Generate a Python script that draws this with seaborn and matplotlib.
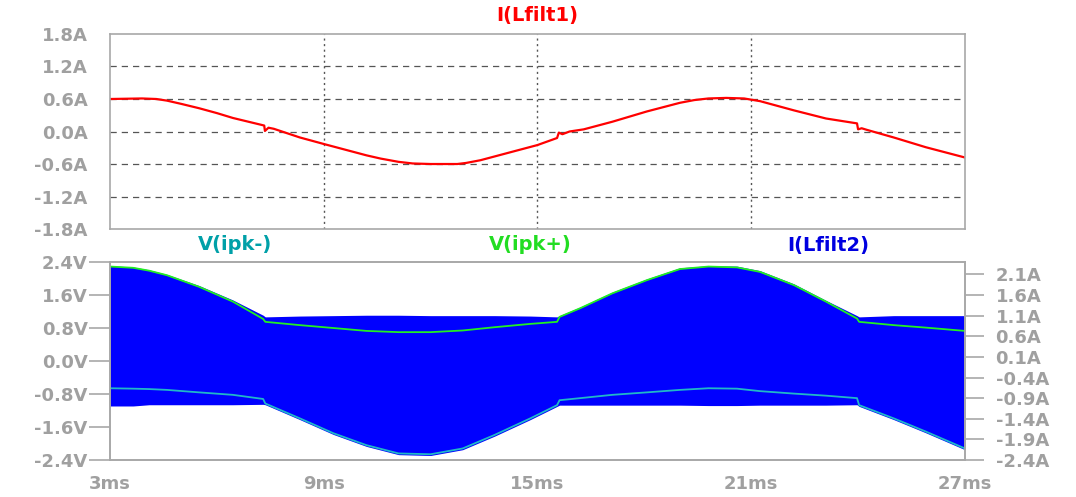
import numpy as np
import pandas as pd
import seaborn as sns
import matplotlib.pyplot as plt

# ---- data (time in ms) ----
t_top = [3.0, 3.9, 4.3, 4.6, 5.0, 5.5, 6.0, 6.45, 7.33, 7.35, 7.45, 7.6, 8.33,
         9.0, 10.2, 10.6, 11.1, 11.5, 12.0, 12.75, 13.0, 13.4, 14.2, 15.0,
         15.55, 15.6, 15.7, 15.9, 16.3, 17.1, 18.07, 19.0, 19.4, 19.8, 20.3,
         20.8, 21.25, 22.2, 23.1, 23.97, 24.0, 24.1, 24.25, 25.0, 25.9, 27.0]
i_lfilt1 = [0.60, 0.61, 0.60, 0.57, 0.51, 0.43, 0.34, 0.25, 0.11, 0.01, 0.07,
            0.05, -0.11, -0.23, -0.44, -0.50, -0.56, -0.59, -0.60, -0.60, -0.58,
            -0.53, -0.39, -0.25, -0.12, -0.02, -0.05, 0.00, 0.04, 0.18, 0.37,
            0.53, 0.58, 0.61, 0.62, 0.61, 0.56, 0.39, 0.24, 0.15, 0.04, 0.06,
            0.03, -0.11, -0.29, -0.48]

t_bot = [3.0, 3.65, 4.1, 4.6, 5.5, 6.45, 7.3, 7.36, 8.33, 9.27, 10.2, 11.1, 12.0,
         12.9, 13.8, 14.8, 15.55, 15.62, 16.2, 17.1, 18.07, 19.0, 19.8, 20.6,
         21.25, 22.2, 23.1, 23.97, 24.03, 25.0, 25.9, 27.0]
v_ipk_pos = [2.29, 2.26, 2.19, 2.08, 1.80, 1.44, 1.02, 0.95, 0.87, 0.80, 0.73,
             0.70, 0.70, 0.74, 0.82, 0.90, 0.95, 1.07, 1.28, 1.64, 1.96, 2.23,
             2.29, 2.27, 2.16, 1.84, 1.44, 1.03, 0.95, 0.87, 0.81, 0.73]
v_ipk_neg = [-0.66, -0.67, -0.68, -0.70, -0.76, -0.82, -0.92, -1.03, -1.39,
             -1.75, -2.04, -2.24, -2.26, -2.12, -1.79, -1.39, -1.07, -0.95,
             -0.90, -0.82, -0.76, -0.70, -0.66, -0.67, -0.73, -0.79, -0.84,
             -0.90, -1.07, -1.39, -1.71, -2.12]
# I(Lfilt2) switches very fast, so only its envelope is visible
i_lfilt2_hi = [2.31, 2.28, 2.21, 2.10, 1.83, 1.48, 1.11, 1.07, 1.09, 1.10, 1.11,
               1.11, 1.10, 1.10, 1.10, 1.09, 1.07, 1.10, 1.31, 1.67, 1.99, 2.26,
               2.31, 2.30, 2.19, 1.87, 1.47, 1.10, 1.07, 1.10, 1.10, 1.10]
i_lfilt2_lo = [-1.09, -1.09, -1.06, -1.06, -1.06, -1.06, -1.05, -1.06, -1.42,
               -1.78, -2.07, -2.27, -2.29, -2.15, -1.82, -1.42, -1.10, -1.07,
               -1.07, -1.07, -1.07, -1.07, -1.08, -1.08, -1.07, -1.07, -1.07,
               -1.06, -1.10, -1.42, -1.74, -2.15]

x_ticks = [3, 9, 15, 21, 27]
x_labels = ["3ms", "9ms", "15ms", "21ms", "27ms"]
top_ticks = [1.8, 1.2, 0.6, 0.0, -0.6, -1.2, -1.8]
top_labels = ["1.8A", "1.2A", "0.6A", "0.0A", "-0.6A", "-1.2A", "-1.8A"]
left_ticks = [2.4, 1.6, 0.8, 0.0, -0.8, -1.6, -2.4]
left_labels = ["2.4V", "1.6V", "0.8V", "0.0V", "-0.8V", "-1.6V", "-2.4V"]
right_ticks = [2.1, 1.6, 1.1, 0.6, 0.1, -0.4, -0.9, -1.4, -1.9, -2.4]
right_labels = ["2.1A", "1.6A", "1.1A", "0.6A", "0.1A", "-0.4A", "-0.9A",
                "-1.4A", "-1.9A", "-2.4A"]

top_df = pd.DataFrame({"t": t_top, "i": i_lfilt1})
bot_df = pd.DataFrame({"t": t_bot, "vp": v_ipk_pos, "vn": v_ipk_neg,
                       "hi": i_lfilt2_hi, "lo": i_lfilt2_lo})

sns.set_style("white")
plt.rcParams["font.family"] = ["DejaVu Sans"]
plt.rcParams["font.weight"] = "bold"

FRAME = "#a8a8a8"
LABEL = "#a0a0a0"
GRID = "#555555"

fig = plt.figure(figsize=(10.76, 4.97), dpi=100)
ax1 = fig.add_axes([0.1022, 0.5392, 0.7946, 0.3924])
ax2 = fig.add_axes([0.1022, 0.0744, 0.7946, 0.3984])
ax3 = ax2.twinx()

# top panel
sns.lineplot(data=top_df, x="t", y="i", ax=ax1, color="#ff0000", lw=1.6,
             estimator=None)
ax1.set_xlim(3, 27)
ax1.set_ylim(-1.8, 1.8)
ax1.set_yticks(top_ticks, top_labels)
ax1.set_xticks(x_ticks[1:-1])
ax1.tick_params(axis="x", length=0, labelbottom=False)
for y in top_ticks[1:-1]:
    ax1.axhline(y, color=GRID, lw=0.9, ls=(0, (5, 4)), zorder=0)
for x in x_ticks[1:-1]:
    ax1.axvline(x, color=GRID, lw=1.0, ls=(0, (1.5, 2.5)), zorder=0)

# bottom panel: envelope on the right (A) axis, voltages on the left (V) axis
ax3.fill_between(bot_df["t"], bot_df["lo"], bot_df["hi"], color="#0000ff", lw=0)
ax3.set_ylim(-2.4, 2.4)
ax3.set_yticks(right_ticks, right_labels)

sns.lineplot(data=bot_df, x="t", y="vp", ax=ax2, color="#22ee22", lw=1.3,
             estimator=None)
sns.lineplot(data=bot_df, x="t", y="vn", ax=ax2, color="#20b8c8", lw=1.3,
             estimator=None)
ax2.set_zorder(ax3.get_zorder() + 1)
ax2.patch.set_visible(False)
ax2.set_xlim(3, 27)
ax2.set_ylim(-2.4, 2.4)
ax2.set_yticks(left_ticks, left_labels)
ax2.set_xticks(x_ticks, x_labels)

for ax in (ax1, ax2, ax3):
    ax.set_xlabel("")
    ax.set_ylabel("")
    for s in ax.spines.values():
        s.set_color(FRAME)
        s.set_linewidth(1.2)
    ax.tick_params(axis="y", direction="out", length=15, width=1.2, pad=1,
                   color=FRAME, labelcolor=LABEL, labelsize=13)
ax2.tick_params(axis="x", direction="out", length=7, width=1.2, pad=4,
                color=FRAME, labelcolor=LABEL, labelsize=13)
ax3.tick_params(axis="y", length=14, pad=8)

# trace names
fig.text(537 / 1076, 1 - 15 / 497, "I(Lfilt1)", color="#ff0000", ha="center",
         va="center", fontsize=14, fontweight="bold")
fig.text(235 / 1076, 1 - 245 / 497, "V(ipk-)", color="#00a0a8", ha="center",
         va="center", fontsize=14, fontweight="bold")
fig.text(530 / 1076, 1 - 245 / 497, "V(ipk+)", color="#22dd22", ha="center",
         va="center", fontsize=14, fontweight="bold")
fig.text(828 / 1076, 1 - 245 / 497, "I(Lfilt2)", color="#0000e0", ha="center",
         va="center", fontsize=14, fontweight="bold")

fig.savefig("out.png", dpi=100, facecolor="white")
